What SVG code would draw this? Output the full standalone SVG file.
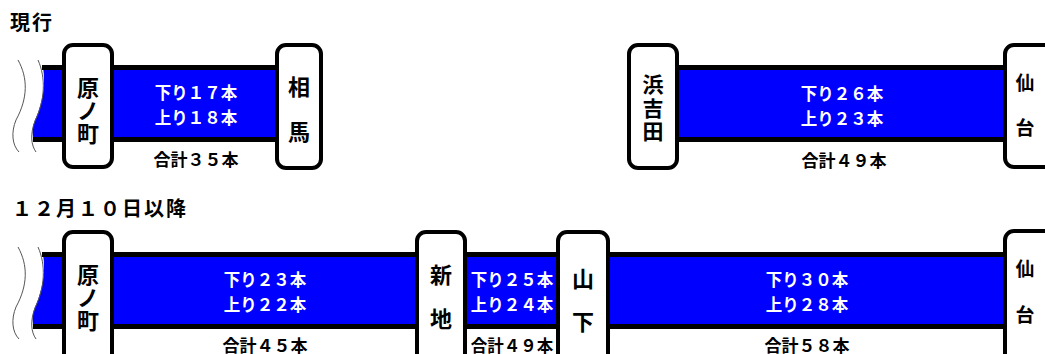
<svg xmlns="http://www.w3.org/2000/svg" width="1045" height="354" viewBox="0 0 1045 354">
<style>
text{font-family:"Noto Sans CJK JP","Noto Sans",sans-serif;font-weight:bold}
.title{font-size:20px;fill:#000;letter-spacing:2px}
.st{font-size:22px;fill:#000;text-anchor:middle}
.cnt{font-size:16.5px;fill:#fff;text-anchor:middle}
.tot{font-size:17px;fill:#000;text-anchor:middle}
.band{fill:#0000ff}
.edge{stroke:#000;stroke-width:5;fill:none}
.box{fill:#fff;stroke:#000;stroke-width:4}
.wave{fill:none;stroke:#555;stroke-width:1}
</style>
<rect width="1045" height="354" fill="#fff"/>
<text class="title" x="10" y="30">現行</text>
<text class="title" x="12" y="216">１２月１０日以降</text>
<g id="connectors">
  <path class="band" d="M43,67 L278,67 L278,140 L34,140 C32,134 32,127 35,120 C42,104 46,86 43,67 Z"/>
  <line class="edge" x1="42" y1="67.5" x2="278" y2="67.5"/>
  <line class="edge" x1="33" y1="139.5" x2="278" y2="139.5"/>
  <path class="wave" d="M18,60 C28,78 28,98 16,120 C11,132 12,145 19,152"/>
  <path class="wave" d="M38,60 C46,78 45,100 35,121 C30,134 31,145 36,152"/>
  <rect class="band" x="676" y="67" width="330" height="73"/>
  <line class="edge" x1="676" y1="67.5" x2="1006" y2="67.5"/>
  <line class="edge" x1="676" y1="139.5" x2="1006" y2="139.5"/>
  <path class="band" d="M43,254 L1006,254 L1006,327 L34,327 C32,321 32,314 35,307 C42,291 46,273 43,254 Z"/>
  <line class="edge" x1="42" y1="254.5" x2="1006" y2="254.5"/>
  <line class="edge" x1="33" y1="326.5" x2="1006" y2="326.5"/>
  <path class="wave" d="M18,247 C28,265 28,285 16,307 C11,319 12,332 19,339"/>
  <path class="wave" d="M38,247 C46,265 45,287 35,308 C30,321 31,332 36,339"/>
</g>
<g id="label-top-1">
  <text class="cnt" x="196" y="99">下り１７本</text>
  <text class="cnt" x="196" y="124">上り１８本</text>
  <text class="tot" x="196" y="166">合計３５本</text>
</g>
<g id="label-top-2">
  <text class="cnt" x="842" y="100">下り２６本</text>
  <text class="cnt" x="842" y="125">上り２３本</text>
  <text class="tot" x="844" y="167">合計４９本</text>
</g>
<g id="label-bot-1">
  <text class="cnt" x="265" y="286">下り２３本</text>
  <text class="cnt" x="265" y="311">上り２２本</text>
  <text class="tot" x="265" y="352">合計４５本</text>
</g>
<g id="label-bot-2">
  <text class="cnt" x="512" y="286">下り２５本</text>
  <text class="cnt" x="512" y="311">上り２４本</text>
  <text class="tot" x="512" y="352" style="font-size:16.5px">合計４９本</text>
</g>
<g id="label-bot-3">
  <text class="cnt" x="807" y="286">下り３０本</text>
  <text class="cnt" x="807" y="311">上り２８本</text>
  <text class="tot" x="807" y="352">合計５８本</text>
</g>
<g id="st-haranomachi-top">
  <rect class="box" x="64" y="45" width="48" height="122" rx="9"/>
  <text class="st" x="88" y="96">原</text>
  <text class="st" x="88" y="119">ノ</text>
  <text class="st" x="88" y="142">町</text>
</g>
<g id="st-soma">
  <rect class="box" x="277" y="45" width="44" height="123" rx="9"/>
  <text class="st" x="299" y="95">相</text>
  <text class="st" x="299" y="140">馬</text>
</g>
<g id="st-hamayoshida">
  <rect class="box" x="629" y="45" width="48" height="123" rx="9"/>
  <text class="st" x="653" y="92" style="font-size:21px">浜</text>
  <text class="st" x="653" y="115.5" style="font-size:21px">吉</text>
  <text class="st" x="653" y="139" style="font-size:21px">田</text>
</g>
<g id="st-sendai-top">
  <rect class="box" x="1005" y="45" width="60" height="122" rx="9"/>
  <text class="st" x="1025" y="90" style="font-size:19px">仙</text>
  <text class="st" x="1025" y="135" style="font-size:19px">台</text>
</g>
<g id="st-haranomachi-bot">
  <rect class="box" x="64" y="232" width="48" height="140" rx="9"/>
  <text class="st" x="88" y="283">原</text>
  <text class="st" x="88" y="306">ノ</text>
  <text class="st" x="88" y="329">町</text>
</g>
<g id="st-shinchi">
  <rect class="box" x="417" y="232" width="48" height="140" rx="9"/>
  <text class="st" x="441" y="283">新</text>
  <text class="st" x="441" y="327">地</text>
</g>
<g id="st-yamashita">
  <rect class="box" x="558" y="232" width="50" height="140" rx="9"/>
  <text class="st" x="583" y="287">山</text>
  <text class="st" x="583" y="330">下</text>
</g>
<g id="st-sendai-bot">
  <rect class="box" x="1005" y="231" width="60" height="140" rx="9"/>
  <text class="st" x="1025" y="276" style="font-size:19px">仙</text>
  <text class="st" x="1025" y="322" style="font-size:19px">台</text>
</g>
</svg>
